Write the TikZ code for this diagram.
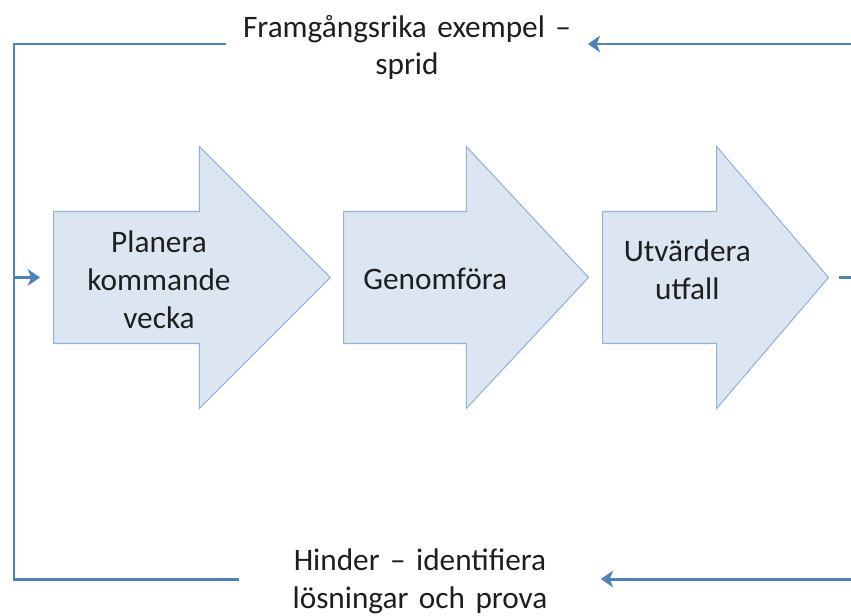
\documentclass[tikz,border=0pt]{standalone}
\usepackage{fontspec}
\setmainfont{Carlito}
\usepackage{tikz}
\usetikzlibrary{shapes.arrows, arrows.meta, positioning, calc}
\definecolor{stagefill}{HTML}{DCE6F2}
\definecolor{stageline}{HTML}{95B3D7}
\definecolor{loopblue}{HTML}{4F81BD}
\definecolor{inktext}{HTML}{1E1E1E}
\tikzset{
  stage/.style={single arrow, draw=stageline, line width=0.6pt, fill=stagefill,
    single arrow head extend=1.3cm, inner xsep=0pt, inner ysep=1.31cm, anchor=tail},
  lbl/.style={font=\fontsize{17.8}{21.5}\selectfont, text=inktext, align=center, inner sep=0pt},
  note/.style={font=\fontsize{17.8}{21.5}\selectfont, text=inktext, align=center,
    text width=7cm, inner xsep=0.11cm, inner ysep=0pt},
  link/.style={draw=loopblue, line width=1.7pt},
  flow/.style={link, -{Stealth[length=7pt, width=9.5pt, inset=2pt]}},
}

\begin{document}
\begin{tikzpicture}[x=0.02cm, y=-0.02cm]
\useasboundingbox (0,0) rectangle (851,615);
\clip (0,0) rectangle (851,615);

% the three steps
\node[stage, minimum height=5.54cm, single arrow tip angle=90,
  label={[lbl, yshift=-0.04cm]center:{Planera\\kommande\\vecka}}] (plan) at (53,277.5) {};
\node[stage, minimum height=4.9cm, single arrow tip angle=94,
  label={[lbl, yshift=-0.03cm]center:{Genomföra}}] (doit) at (343,277.5) {};
\node[stage, minimum height=4.52cm, single arrow tip angle=99,
  label={[lbl, yshift=0.16cm]center:{Utvärdera\\utfall}}] (eval) at (602,277.5) {};

% feedback texts
\node[note] (good) at (407,47.5) {Framgångsrika exempel –\\sprid};
\node[note] (hind) at (420,581.5) {Hinder – identifiera\\lösningar och prova};

\coordinate (outR) at (875,277.5);
\coordinate (inL) at (14,277.5);

\draw[link] ([xshift=0.2cm]eval.tip) -- (outR);
\draw[flow] (outR) |- ([yshift=0.07cm]good.east);
\draw[flow] (outR) |- ([yshift=0.05cm]hind.east);
\draw[link] ([yshift=0.07cm]good.west) -| (inL) |- ([yshift=0.05cm]hind.west);
\draw[flow] (inL) -- ([xshift=-0.26cm]plan.tail);

\end{tikzpicture}
\end{document}
